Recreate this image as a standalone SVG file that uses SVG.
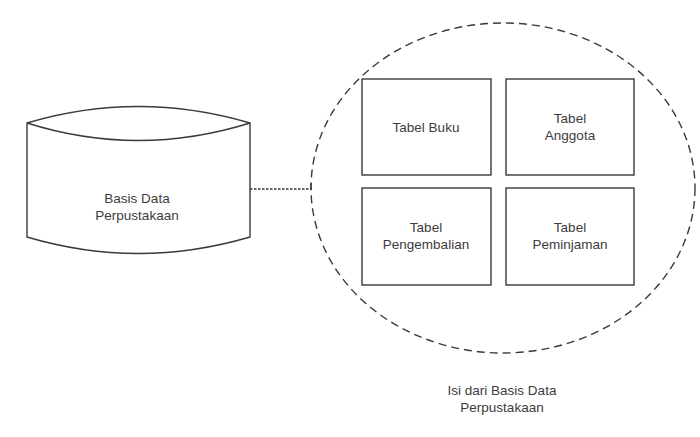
<svg xmlns="http://www.w3.org/2000/svg" width="700" height="437" viewBox="0 0 700 437">
<style>
.shape{fill:#fff;stroke:#3a3a3a;stroke-width:1.4}
.lbl{font-family:"Liberation Sans",Arial,sans-serif;font-size:13.5px;fill:#3c3c3c;text-anchor:middle}
</style>
<rect width="700" height="437" fill="#fff"/>
<g id="lingkup">
<ellipse cx="503" cy="188" rx="192" ry="165" fill="none" stroke="#3a3a3a" stroke-width="1.4" stroke-dasharray="8,5"/>
</g>
<g id="connectors">
<path d="M250,189 H311" fill="none" stroke="#333" stroke-width="1.6" stroke-dasharray="2.5,1.5"/>
<path d="M311,183 V190" fill="none" stroke="#333" stroke-width="1.2"/>
</g>
<g id="basis-data">
<path class="shape" d="M27,123 Q138,90 250,123 V237 Q138,270 27,237 Z"/>
<path class="shape" fill="none" d="M27,123 Q138,158 250,123"/>
<text class="lbl" x="137" y="203">Basis Data</text>
<text class="lbl" x="137" y="220">Perpustakaan</text>
</g>
<g id="tabel-buku">
<rect class="shape" x="362" y="79" width="129" height="96"/>
<text class="lbl" x="426" y="132">Tabel Buku</text>
</g>
<g id="tabel-anggota">
<rect class="shape" x="506" y="79" width="128" height="96"/>
<text class="lbl" x="570" y="123">Tabel</text>
<text class="lbl" x="570" y="140">Anggota</text>
</g>
<g id="tabel-pengembalian">
<rect class="shape" x="362" y="188" width="129" height="97"/>
<text class="lbl" x="426" y="232">Tabel</text>
<text class="lbl" x="426" y="249">Pengembalian</text>
</g>
<g id="tabel-peminjaman">
<rect class="shape" x="506" y="188" width="128" height="97"/>
<text class="lbl" x="570" y="232">Tabel</text>
<text class="lbl" x="570" y="249">Peminjaman</text>
</g>
<g id="keterangan">
<text class="lbl" x="502" y="395">Isi dari Basis Data</text>
<text class="lbl" x="502" y="412">Perpustakaan</text>
</g>
</svg>
